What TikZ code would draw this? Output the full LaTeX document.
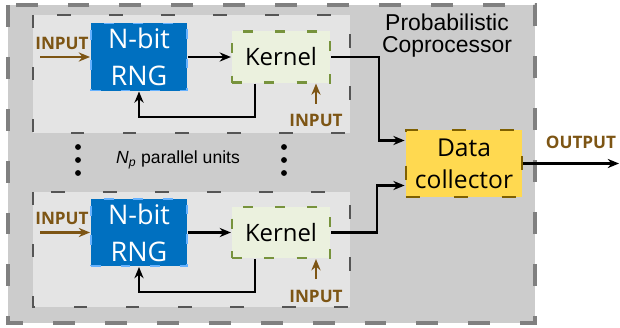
\documentclass[tikz,border=0pt]{standalone}
\usepackage{fontspec}
\setmainfont{Open Sans}
\newfontfamily\arialfont{Liberation Sans}
\usepackage{xcolor}
\usetikzlibrary{arrows.meta,calc}
\definecolor{procgray}{RGB}{204,204,204}
\definecolor{procdash}{RGB}{128,128,128}
\definecolor{unitgray}{RGB}{228,228,228}
\definecolor{unitdash}{RGB}{85,85,85}
\definecolor{rngblue}{RGB}{0,112,192}
\definecolor{rngedge}{RGB}{102,178,255}
\definecolor{kernfill}{RGB}{235,241,222}
\definecolor{kernedge}{RGB}{119,147,60}
\definecolor{datafill}{RGB}{255,217,80}
\definecolor{dataedge}{RGB}{127,96,0}
\definecolor{inbrown}{RGB}{125,85,20}
\tikzset{
  procframe/.style={fill=procgray,draw=procdash,line width=2.8pt,dash pattern=on 15.6pt off 21.3pt},
  unitframe/.style={fill=unitgray,draw=unitdash,line width=1.6pt,dash pattern=on 9.5pt off 27.5pt},
  rngbox/.style={fill=rngblue,draw=rngedge,line width=1.4pt,dash pattern=on 7pt off 14pt,text=white,
    minimum width=2.4cm,minimum height=1.675cm,inner sep=0pt,align=center,font=\fontsize{19.2}{26.3}\selectfont},
  kernbox/.style={fill=kernfill,draw=kernedge,line width=1.5pt,dash pattern=on 7pt off 16pt,
    minimum width=2.45cm,minimum height=1.275cm,inner sep=0pt,font=\fontsize{17}{20}\selectfont},
  databox/.style={fill=datafill,draw=dataedge,line width=2pt,dash pattern=on 10pt off 24pt,
    minimum width=2.9cm,minimum height=1.675cm,inner sep=0pt,align=center,font=\fontsize{17.5}{22.8}\selectfont},
  iolabel/.style={text=inbrown,inner sep=0pt,font=\bfseries\fontsize{12.2}{14}\selectfont},
  inarrow/.style={draw=inbrown,line width=1.5pt,-{Stealth[length=8pt,width=6.5pt]}},
  conn/.style={draw=black,line width=1.6pt,-{Stealth[length=8pt,width=6.5pt]}},
}
\begin{document}
\begin{tikzpicture}[x=0.025cm,y=-0.025cm]
  \useasboundingbox (0,0) rectangle (620,328);
  % coprocessor frame
  \draw[procframe](8,5)rectangle(535,323);
  \node[font=\arialfont\fontsize{16.3}{15.6}\selectfont,align=center] (title) at (447,36) {Probabilistic\\Coprocessor};
  % upper unit
  \draw[unitframe](33,15)rectangle(350,133);
  \node[rngbox] (rng1) at (139,57) {N-bit\\RNG};
  \node[kernbox] (kern1) at (281,57) {Kernel};
  \node[iolabel] (lin1) at (62,43) {INPUT};
  \coordinate (in1) at (40,57);
  \node[iolabel] (kin1) at (316,120) {INPUT};
  \coordinate (kt1) at (316,104);
  \coordinate (fb1) at (255,117);
  \draw[conn](rng1.east)--(kern1.west);
  \draw[conn](fb1 |- kern1.south)--(fb1)-|(rng1.south);
  \draw[inarrow](in1)--(rng1.west);
  \draw[inarrow](kt1)--(kt1 |- kern1.south);
  % lower unit
  \draw[unitframe](33,192)rectangle(350,307);
  \node[rngbox] (rng2) at (139,232.5) {N-bit\\RNG};
  \node[kernbox] (kern2) at (281,232.5) {Kernel};
  \node[iolabel] (lin2) at (62,218) {INPUT};
  \coordinate (in2) at (40,232.5);
  \node[iolabel] (kin2) at (316,296) {INPUT};
  \coordinate (kt2) at (316,279);
  \coordinate (fb2) at (255,292);
  \draw[conn](rng2.east)--(kern2.west);
  \draw[conn](fb2 |- kern2.south)--(fb2)-|(rng2.south);
  \draw[inarrow](in2)--(rng2.west);
  \draw[inarrow](kt2)--(kt2 |- kern2.south);
  % parallel units
  \foreach \dy in {147,160,173}{
    \fill (78,\dy) circle (2.1pt);
    \fill (284,\dy) circle (2.1pt);
  }
  \node[font=\arialfont\fontsize{12.5}{14}\selectfont] (np) at (178,160) {\textit{N}\textsubscript{\textit{p}} parallel units};
  % collector
  \node[databox] (data) at (464,163.5) {Data\\collector};
  \coordinate (dat1) at ($(data.west)+(0,-23)$);
  \coordinate (dat2) at ($(data.west)+(0,22)$);
  \draw[conn](kern1.east)--++(48,0)|-(dat1);
  \draw[conn](kern2.east)--++(46,0)|-(dat2);
  \node[iolabel] (outl) at (581,142) {OUTPUT};
  \coordinate (out) at (619,163.5);
  \draw[conn](data.east)--(out);
\end{tikzpicture}
\end{document}
